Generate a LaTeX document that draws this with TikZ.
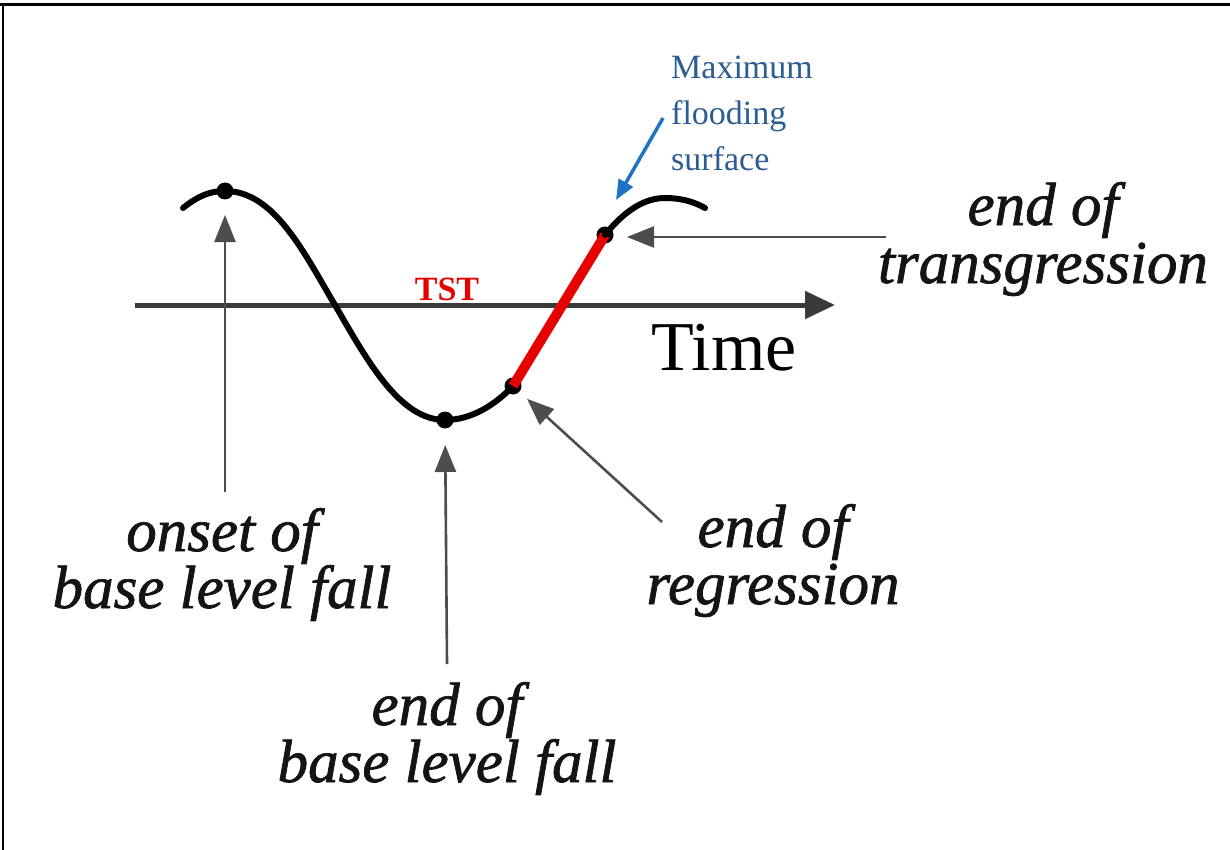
\documentclass[tikz,border=0pt]{standalone}
\usepackage{fontspec}
\setmainfont{Liberation Serif}
\newfontfamily\lblfont[FakeBold=1.2]{Liberation Serif}
\usetikzlibrary{arrows.meta}
\definecolor{annGray}{HTML}{4D4D4D}
\definecolor{axisGray}{HTML}{3A3A3A}
\definecolor{mfsBlue}{HTML}{1F72C4}
\definecolor{mfsText}{HTML}{2B5C92}
\definecolor{tstRed}{HTML}{E60000}
\tikzset{
  curveline/.style={line width=6pt, line cap=round, black},
  dotnode/.style={circle, fill=black, inner sep=0pt, minimum size=17pt},
  annarrow/.style={line width=2.6pt, annGray, -{Triangle[length=27pt,width=21pt]}},
  lbl/.style={align=center, anchor=base, inner sep=0pt, text=black!92},
}
\begin{document}
\begin{tikzpicture}[x=1pt,y=-1pt]
\useasboundingbox (0,0) rectangle (1230,850);
% frame
\draw[line width=3pt] (0,5) -- (1230,5);
\draw[line width=2pt] (3,5) -- (3,850);
% axis
\coordinate (ax0) at (135,305);
\coordinate (ax1) at (835,305);
\draw[line width=5pt, axisGray, -{Triangle[length=30pt,width=27pt]}] (ax0) -- (ax1);
\node[anchor=base, font=\fontsize{70}{70}\selectfont] (time) at (724,370) {Time};
\node[font=\bfseries\fontsize{34}{34}\selectfont, text=tstRed] (tst) at (447,289) {TST};
% curve
\coordinate (c0) at (183,208);
\node[dotnode] (p1) at (225,191) {};
\node[dotnode] (p2) at (445,420) {};
\node[dotnode] (p3) at (513,386) {};
\node[dotnode] (p4) at (605,235) {};
\coordinate (c5) at (705,208);
\draw[curveline] (c0) .. controls (198,196) and (210,191) .. (p1.center)
  .. controls (275,191) and (305,255) .. (335,305)
  .. controls (368,362) and (400,420) .. (p2.center)
  .. controls (472,420) and (496,404) .. (p3.center);
\draw[line width=10pt, tstRed] (p3.center) -- (p4.center);
\draw[curveline] (p4.center) .. controls (625,210) and (645,198) .. (665,198)
  .. controls (685,198) and (698,204) .. (c5);
% labels (anchor=base is the baseline of the last line)
\node[lbl, font=\lblfont\itshape\fontsize{61}{57}\selectfont] (onset) at (222,608) {onset of\\base level fall};
\node[lbl, font=\lblfont\itshape\fontsize{61}{57}\selectfont] (eobf) at (447,782) {end of\\base level fall};
\node[lbl, font=\lblfont\itshape\fontsize{61}{57}\selectfont] (eor) at (773,604) {end of\\regression};
\node[lbl, font=\lblfont\itshape\fontsize{61}{58}\selectfont] (eot) at (1043,283) {end of\\transgression};
\node[align=left, anchor=north west, text=mfsText, font=\fontsize{34}{46}\selectfont, inner sep=0pt] (mfs) at (671,56) {Maximum\\flooding\\surface};
% annotation arrows
\coordinate (t1) at (225,492);
\coordinate (t2) at (447,664);
\coordinate (t3) at (662,522);
\coordinate (t4) at (886,237);
\coordinate (tb) at (663,118);
\coordinate (hb) at (616,200);
\draw[annarrow, shorten >=24pt] (t1) -- (p1.center);
\draw[annarrow, shorten >=25pt] (t2) -- (p2.center);
\draw[annarrow, shorten >=19pt] (t3) -- (p3.center);
\draw[annarrow, shorten >=22pt] (t4) -- (p4.center |- t4);
\draw[line width=3.5pt, mfsBlue, -{Triangle[length=20pt,width=16pt]}] (tb) -- (hb);
\end{tikzpicture}
\end{document}
